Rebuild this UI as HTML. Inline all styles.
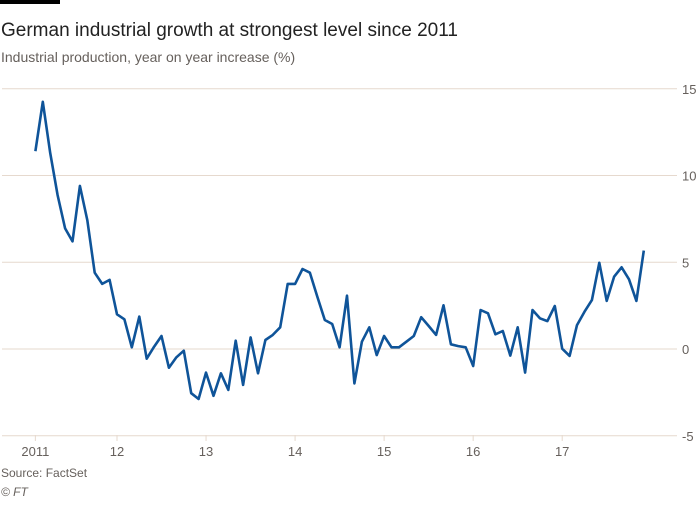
<!DOCTYPE html>
<html><head><meta charset="utf-8"><style>
body{margin:0;background:#fff;font-family:"Liberation Sans",sans-serif;}
svg text{font-family:"Liberation Sans",sans-serif;}
</style></head><body>
<svg width="700" height="500">
<rect x="0" y="0" width="60" height="4" fill="#000"/>
<text x="1" y="36" font-size="19" fill="#222">German industrial growth at strongest level since 2011</text>
<text x="1" y="62" font-size="14" fill="#66605c">Industrial production, year on year increase (%)</text>
<g id="grid"></g><g id="xaxis"></g>
<path id="line" fill="none" stroke="#0f5499" stroke-width="2.6" stroke-linejoin="round"/>
<text x="1" y="477" font-size="12" fill="#66605c">Source: FactSet</text>
<text x="1" y="496" font-size="12" font-style="italic" fill="#66605c">© FT</text>
</svg>
<script>
const values=[11.4,14.25,11.3,8.87,6.95,6.2,9.4,7.43,4.4,3.75,3.98,2.0,1.71,0.1,1.87,-0.56,0.13,0.75,-1.08,-0.48,-0.1,-2.55,-2.88,-1.36,-2.7,-1.4,-2.36,0.48,-2.07,0.67,-1.4,0.52,0.81,1.25,3.75,3.75,4.61,4.4,3.02,1.67,1.44,0.1,3.07,-1.98,0.42,1.25,-0.35,0.75,0.1,0.1,0.42,0.75,1.83,1.33,0.81,2.52,0.27,0.17,0.1,-0.98,2.25,2.06,0.85,1.04,-0.38,1.25,-1.36,2.25,1.77,1.61,2.48,0.02,-0.4,1.38,2.15,2.82,4.97,2.77,4.17,4.71,4.02,2.77,5.67];
const startMonth=1; // Feb 2011 = month offset 1 from Jan 2011
const yTicks=[15,10,5,0,-5];
const xTickLabels=["2011","12","13","14","15","16","17"];
const xTickMonths=[1,12,24,36,48,60,72];
const NS="http://www.w3.org/2000/svg";
function y(v){return 349-v*17.35;}
function x(m){return 117+(m-12)*7.42;}
const grid=document.getElementById('grid');
yTicks.forEach(t=>{
 const l=document.createElementNS(NS,'line');
 l.setAttribute('x1',2);l.setAttribute('x2',677);l.setAttribute('y1',y(t));l.setAttribute('y2',y(t));
 l.setAttribute('stroke','#e6d9ce');l.setAttribute('stroke-width',1);
 
 
 grid.appendChild(l);
 const tx=document.createElementNS(NS,'text');
 tx.setAttribute('x',682);tx.setAttribute('y',y(t)+5);tx.setAttribute('font-size',13);tx.setAttribute('fill','#66605c');
 tx.textContent=t;
 
 
 grid.appendChild(tx);
});
const xa=document.getElementById('xaxis');
xTickLabels.forEach((lab,i)=>{
 const px=x(xTickMonths[i]);
 const l=document.createElementNS(NS,'line');
 l.setAttribute('x1',px);l.setAttribute('x2',px);l.setAttribute('y1',435);l.setAttribute('y2',441);
 l.setAttribute('stroke','#e6d9ce');
 
 
 xa.appendChild(l);
 const tx=document.createElementNS(NS,'text');
 tx.setAttribute('x',px);tx.setAttribute('y',456);tx.setAttribute('font-size',13);tx.setAttribute('fill','#66605c');tx.setAttribute('text-anchor','middle');
 tx.textContent=lab;
 
 
 xa.appendChild(tx);
});
document.getElementById('line').setAttribute('d',values.map((v,i)=>(i?'L':'M')+x(startMonth+i).toFixed(1)+','+y(v).toFixed(1)).join(''));
</script>
</body></html>
